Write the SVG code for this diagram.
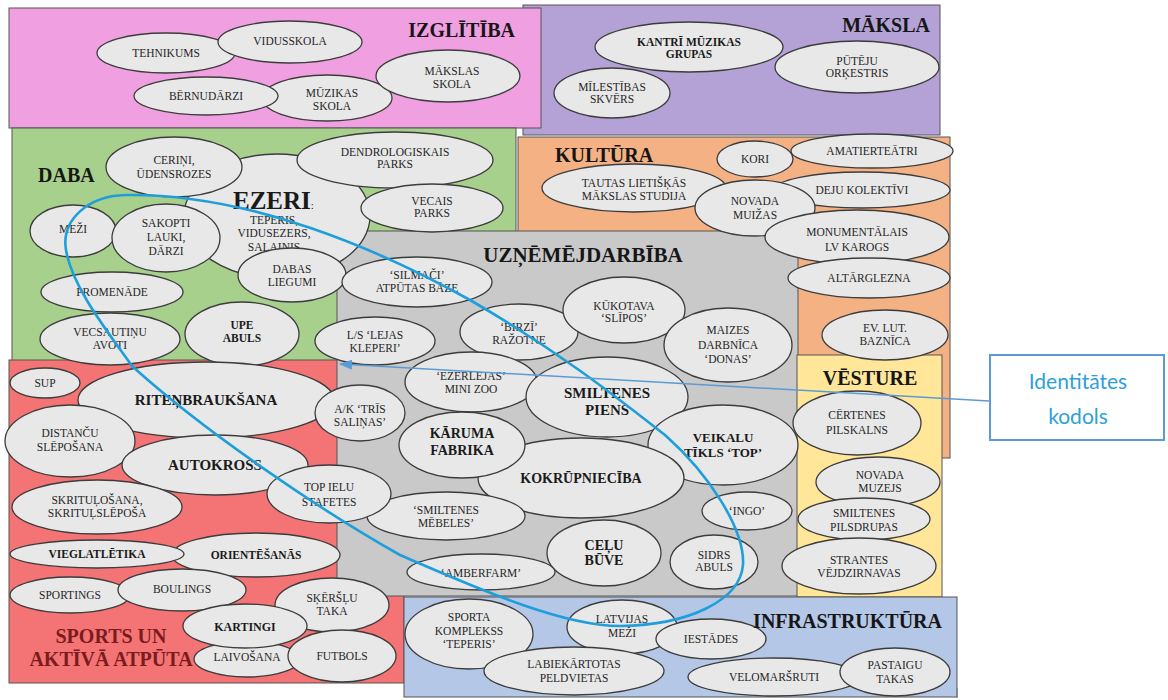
<svg xmlns="http://www.w3.org/2000/svg" width="1168" height="700" viewBox="0 0 1168 700">
<defs>
<style>
.p{stroke:#555;stroke-width:1}
.e{fill:#E8E8E8;stroke:#3C3C3C;stroke-width:1.3}
.t{font-family:"Liberation Serif","Times New Roman",serif;font-size:11.5px;fill:#262626;text-anchor:middle}
.b{font-weight:bold;fill:#1A1A1A}
.s12{font-size:12px}
.s13{font-size:13px}
.s14{font-size:14px}
.s15{font-size:15px}
.h{font-family:"Liberation Serif","Times New Roman",serif;font-weight:bold;font-size:20px;fill:#161616}
.red{fill:#7B1C1C}
.loop{fill:none;stroke:#1E9FDB;stroke-width:2.6}
.arr{fill:none;stroke:#5B9BD5;stroke-width:1.5}
.id{font-family:Lato,"Open Sans",sans-serif;font-size:21px;fill:#2F9FDB;text-anchor:middle}
</style>
<marker id="ah" markerUnits="userSpaceOnUse" markerWidth="13" markerHeight="10" refX="12" refY="5" orient="auto">
<path d="M0,0 L13,5 L0,10 Z" fill="#5B9BD5"/>
</marker>
</defs>
<rect width="1168" height="700" fill="#fff"/>

<g id="panels">
<rect id="maksla-panel" class="p" x="523" y="5" width="417" height="130" fill="#B4A2D6"/>
<rect id="izglitiba-panel" class="p" x="9" y="8" width="532" height="120" fill="#F0A0E0"/>
<rect id="daba-panel" class="p" x="12" y="128" width="504" height="233" fill="#A8D08D"/>
<rect id="kultura-panel" class="p" x="518" y="137" width="432" height="321" fill="#F4B183"/>
<rect id="sports-panel" class="p" x="9" y="360" width="395" height="323" fill="#F47375"/>
<rect id="uznem-panel" class="p" x="337" y="231" width="461" height="365" fill="#C9C9C9"/>
<rect id="vesture-panel" class="p" x="797" y="355" width="145" height="242" fill="#FFE699"/>
<rect id="infra-panel" class="p" x="404" y="597" width="553" height="100" fill="#B4C7E7"/>
</g>

<g id="n-tehnikums"><ellipse class="e" cx="166" cy="53" rx="69" ry="20"/><text class="t" x="166" y="57">TEHNIKUMS</text></g>
<g id="n-vidusskola"><ellipse class="e" cx="290" cy="42" rx="72" ry="21"/><text class="t" x="290" y="45">VIDUSSKOLA</text></g>
<g id="n-muzikas-skola"><ellipse class="e" cx="327" cy="98" rx="65" ry="23"/><text class="t" x="332" y="97">MŪZIKAS</text><text class="t" x="332" y="110">SKOLA</text></g>
<g id="n-bernudarzi"><ellipse class="e" cx="206" cy="96" rx="72" ry="19"/><text class="t" x="206" y="100">BĒRNUDĀRZI</text></g>
<g id="n-makslas-skola"><ellipse class="e" cx="448" cy="76" rx="72" ry="26"/><text class="t" x="452" y="75">MĀKSLAS</text><text class="t" x="452" y="88">SKOLA</text></g>

<g id="n-kantri"><ellipse class="e" cx="689" cy="47" rx="94" ry="25"/><text class="t b" x="689" y="46">KANTRĪ MŪZIKAS</text><text class="t b" x="689" y="58">GRUPAS</text></g>
<g id="n-milestibas"><ellipse class="e" cx="612" cy="93" rx="58" ry="25"/><text class="t" x="612" y="91">MĪLESTĪBAS</text><text class="t" x="612" y="103">SKVĒRS</text></g>
<g id="n-puteju"><ellipse class="e" cx="857" cy="67" rx="82" ry="26"/><text class="t" x="857" y="65">PŪTĒJU</text><text class="t" x="857" y="77">ORĶESTRIS</text></g>

<g id="n-ezeri"><ellipse class="e" cx="277" cy="216" rx="93" ry="62"/><text x="233" y="209" font-family="Liberation Serif,serif" font-weight="bold" font-size="25" fill="#1A1A1A">EZERI<tspan font-size="11" font-weight="normal">:</tspan></text><text class="t" x="274" y="224">TEPERIS,</text><text class="t" x="274" y="237">VIDUSEZERS,</text><text class="t" x="274" y="251">SALAIŅIS</text></g>
<g id="n-cerini"><ellipse class="e" cx="174" cy="167" rx="68" ry="30"/><text class="t" x="174" y="164">CERIŅI,</text><text class="t" x="174" y="178">ŪDENSROZES</text></g>
<g id="n-dendro"><ellipse class="e" cx="395" cy="160" rx="98" ry="28"/><text class="t" x="395" y="156">DENDROLOGISKAIS</text><text class="t" x="395" y="168">PARKS</text></g>
<g id="n-vecais-parks"><ellipse class="e" cx="432" cy="208" rx="71" ry="24"/><text class="t" x="432" y="205">VECAIS</text><text class="t" x="432" y="217">PARKS</text></g>
<g id="n-mezi"><ellipse class="e" cx="73" cy="231" rx="43" ry="26"/><text class="t" x="73" y="233">MEŽI</text></g>
<g id="n-sakopti"><ellipse class="e" cx="166" cy="238" rx="54" ry="34"/><text class="t" x="166" y="227">SAKOPTI</text><text class="t" x="166" y="241">LAUKI,</text><text class="t" x="166" y="255">DĀRZI</text></g>
<g id="n-dabas-liegumi"><ellipse class="e" cx="292" cy="275" rx="54" ry="27"/><text class="t" x="292" y="273">DABAS</text><text class="t" x="292" y="286">LIEGUMI</text></g>
<g id="n-promenade"><ellipse class="e" cx="112" cy="292" rx="71" ry="20"/><text class="t" x="112" y="296">PROMENĀDE</text></g>
<g id="n-vecsautinu"><ellipse class="e" cx="110" cy="339" rx="70" ry="26"/><text class="t" x="110" y="336">VECSAUTIŅU</text><text class="t" x="110" y="349">AVOTI</text></g>
<g id="n-upe-abuls"><ellipse class="e" cx="242" cy="334" rx="57" ry="32"/><text class="t b" x="242" y="329">UPE</text><text class="t b" x="242" y="342">ABULS</text></g>
<g id="n-silmaci"><ellipse class="e" cx="417" cy="282" rx="75" ry="25"/><text class="t" x="417" y="279">‘SILMAČI’</text><text class="t" x="417" y="292">ATPŪTAS BĀZE</text></g>

<g id="n-tautas"><ellipse class="e" cx="634" cy="188" rx="92" ry="24"/><text class="t" x="634" y="187">TAUTAS LIETIŠĶĀS</text><text class="t" x="634" y="200">MĀKSLAS STUDIJA</text></g>
<g id="n-kori"><ellipse class="e" cx="755" cy="159" rx="38" ry="18"/><text class="t" x="755" y="163">KORI</text></g>
<g id="n-amatierteatri"><ellipse class="e" cx="872" cy="151" rx="81" ry="17"/><text class="t" x="872" y="155">AMATIERTEĀTRI</text></g>
<g id="n-deju"><ellipse class="e" cx="862" cy="190" rx="88" ry="18"/><text class="t" x="862" y="194">DEJU KOLEKTĪVI</text></g>
<g id="n-novada-muizas"><ellipse class="e" cx="755" cy="208" rx="60" ry="28"/><text class="t" x="755" y="205">NOVADA</text><text class="t" x="755" y="219">MUIŽAS</text></g>
<g id="n-monumentalais"><ellipse class="e" cx="857" cy="237" rx="92" ry="27"/><text class="t" x="857" y="236">MONUMENTĀLAIS</text><text class="t" x="857" y="251">LV KAROGS</text></g>
<g id="n-altarglezna"><ellipse class="e" cx="869" cy="278" rx="81" ry="20"/><text class="t" x="869" y="282">ALTĀRGLEZNA</text></g>
<g id="n-ev-lut"><ellipse class="e" cx="885" cy="335" rx="63" ry="25"/><text class="t" x="885" y="332">EV. LUT.</text><text class="t" x="885" y="345">BAZNĪCA</text></g>

<g id="n-lejas"><ellipse class="e" cx="375" cy="341" rx="60" ry="24"/><text class="t" x="375" y="339">L/S ‘LEJAS</text><text class="t" x="375" y="352">KLEPERI’</text></g>
<g id="n-birzi"><ellipse class="e" cx="519" cy="332" rx="59" ry="28"/><text class="t" x="519" y="331">‘BIRZĪ’</text><text class="t" x="519" y="344">RAŽOTNE</text></g>
<g id="n-kukotava"><ellipse class="e" cx="624" cy="310" rx="61" ry="33"/><text class="t" x="624" y="310">KŪKOTAVA</text><text class="t" x="624" y="322">‘SLĪPOS’</text></g>
<g id="n-maizes"><ellipse class="e" cx="728" cy="345" rx="64" ry="37"/><text class="t" x="728" y="334">MAIZES</text><text class="t" x="728" y="349">DARBNĪCA</text><text class="t" x="728" y="363">‘DONAS’</text></g>
<g id="n-ezerlejas"><ellipse class="e" cx="471" cy="382" rx="66" ry="30"/><text class="t" x="471" y="380">‘EZERLEJAS’</text><text class="t" x="471" y="393">MINI ZOO</text></g>
<g id="n-smiltenes-piens"><ellipse class="e" cx="607" cy="397" rx="81" ry="40"/><text class="t b s15" x="607" y="398">SMILTENES</text><text class="t b s15" x="607" y="415">PIENS</text></g>
<g id="n-veikalu"><ellipse class="e" cx="723" cy="445" rx="75" ry="40"/><text class="t b s13" x="723" y="442">VEIKALU</text><text class="t b s13" x="723" y="457">TĪKLS ‘TOP’</text></g>
<g id="n-kokrupn"><ellipse class="e" cx="581" cy="478" rx="103" ry="40"/><text class="t b s14" x="581" y="483">KOKRŪPNIECĪBA</text></g>
<g id="n-karuma"><ellipse class="e" cx="462" cy="445" rx="63" ry="33"/><text class="t b s14" x="462" y="438">KĀRUMA</text><text class="t b s14" x="462" y="455">FABRIKA</text></g>
<g id="n-mebeles"><ellipse class="e" cx="446" cy="516" rx="79" ry="24"/><text class="t" x="446" y="514">‘SMILTENES</text><text class="t" x="446" y="527">MĒBELES’</text></g>
<g id="n-ingo"><ellipse class="e" cx="747" cy="511" rx="45" ry="19"/><text class="t" x="747" y="515">‘INGO’</text></g>
<g id="n-celu"><ellipse class="e" cx="604" cy="553" rx="57" ry="33"/><text class="t b s14" x="604" y="550">CEĻU</text><text class="t b s14" x="604" y="565">BŪVE</text></g>
<g id="n-sidrs"><ellipse class="e" cx="714" cy="562" rx="44" ry="27"/><text class="t" x="714" y="559">SIDRS</text><text class="t" x="714" y="571">ABULS</text></g>
<g id="n-amberfarm"><ellipse class="e" cx="481" cy="572" rx="74" ry="18"/><text class="t" x="481" y="577">‘AMBERFARM’</text></g>

<g id="n-certenes"><ellipse class="e" cx="857" cy="423" rx="64" ry="32"/><text class="t" x="857" y="419">CĒRTENES</text><text class="t" x="857" y="434">PILSKALNS</text></g>
<g id="n-novada-muzejs"><ellipse class="e" cx="878" cy="482" rx="62" ry="25"/><text class="t" x="880" y="479">NOVADA</text><text class="t" x="880" y="492">MUZEJS</text></g>
<g id="n-pilsdrupas"><ellipse class="e" cx="864" cy="519" rx="66" ry="21"/><text class="t" x="864" y="517">SMILTENES</text><text class="t" x="864" y="531">PILSDRUPAS</text></g>
<g id="n-strantes"><ellipse class="e" cx="859" cy="566" rx="77" ry="28"/><text class="t" x="859" y="564">STRANTES</text><text class="t" x="859" y="577">VĒJDZIRNAVAS</text></g>

<g id="n-sup"><ellipse class="e" cx="45" cy="383" rx="35" ry="15"/><text class="t" x="45" y="387">SUP</text></g>
<g id="n-ritenbrauksana"><ellipse class="e" cx="206" cy="400" rx="128" ry="38"/><text class="t b s15" x="206" y="405">RITEŅBRAUKŠANA</text></g>
<g id="n-distancu"><ellipse class="e" cx="70" cy="441" rx="65" ry="36"/><text class="t" x="70" y="437">DISTANČU</text><text class="t" x="70" y="451">SLĒPOŠANA</text></g>
<g id="n-autokross"><ellipse class="e" cx="215" cy="465" rx="93" ry="30"/><text class="t b s15" x="215" y="470">AUTOKROSS</text></g>
<g id="n-trisalinas"><ellipse class="e" cx="360" cy="413" rx="45" ry="28"/><text class="t" x="360" y="413">A/K ‘TRĪS</text><text class="t" x="360" y="426">SALIŅAS’</text></g>
<g id="n-topielu"><ellipse class="e" cx="329" cy="494" rx="62" ry="29"/><text class="t" x="329" y="491">TOP IELU</text><text class="t" x="329" y="506">STAFETES</text></g>
<g id="n-skritulosana"><ellipse class="e" cx="97" cy="507" rx="85" ry="27"/><text class="t" x="97" y="504">SKRITUĻOŠANA,</text><text class="t" x="97" y="517">SKRITUĻSLĒPOŠA</text></g>
<g id="n-orientesanas"><ellipse class="e" cx="256" cy="555" rx="84" ry="22"/><text class="t b" x="256" y="559">ORIENTĒŠANĀS</text></g>
<g id="n-vieglatletika"><ellipse class="e" cx="97" cy="554" rx="87" ry="14"/><text class="t b" x="97" y="558">VIEGLATLĒTIKA</text></g>
<g id="n-sportings"><ellipse class="e" cx="70" cy="595" rx="60" ry="18"/><text class="t" x="70" y="599">SPORTINGS</text></g>
<g id="n-boulings"><ellipse class="e" cx="182" cy="590" rx="64" ry="21"/><text class="t" x="182" y="593">BOULINGS</text></g>
<g id="n-skerslu"><ellipse class="e" cx="332" cy="605" rx="57" ry="27"/><text class="t" x="332" y="602">SĶĒRŠĻU</text><text class="t" x="332" y="615">TAKA</text></g>
<g id="n-laivosana"><ellipse class="e" cx="247" cy="659" rx="53" ry="18"/><text class="t" x="247" y="661">LAIVOŠANA</text></g>
<g id="n-kartingi"><ellipse class="e" cx="245" cy="626" rx="62" ry="22"/><text class="t b s12" x="245" y="631">KARTINGI</text></g>
<g id="n-futbols"><ellipse class="e" cx="342" cy="656" rx="54" ry="26"/><text class="t" x="342" y="660">FUTBOLS</text></g>

<g id="n-sporta-komplekss"><ellipse class="e" cx="469" cy="634" rx="64" ry="35"/><text class="t" x="469" y="621">SPORTA</text><text class="t" x="469" y="635">KOMPLEKSS</text><text class="t" x="469" y="648">‘TEPERIS’</text></g>
<g id="n-latvijas-mezi"><ellipse class="e" cx="622" cy="627" rx="55" ry="27"/><text class="t" x="622" y="623">LATVIJAS</text><text class="t" x="622" y="637">MEŽI</text></g>
<g id="n-iestades"><ellipse class="e" cx="711" cy="639" rx="55" ry="20"/><text class="t" x="711" y="643">IESTĀDES</text></g>
<g id="n-labiekartotas"><ellipse class="e" cx="574" cy="671" rx="90" ry="24"/><text class="t" x="574" y="668">LABIEKĀRTOTAS</text><text class="t" x="574" y="682">PELDVIETAS</text></g>
<g id="n-velomarsruti"><ellipse class="e" cx="774" cy="677" rx="86" ry="19"/><text class="t" x="774" y="681">VELOMARŠRUTI</text></g>
<g id="n-pastaigu"><ellipse class="e" cx="895" cy="672" rx="55" ry="24"/><text class="t" x="895" y="669">PASTAIGU</text><text class="t" x="895" y="683">TAKAS</text></g>

<g id="titles">
<text class="h" x="515" y="37" text-anchor="end">IZGLĪTĪBA</text>
<text class="h" x="930" y="32" text-anchor="end">MĀKSLA</text>
<text class="h" x="38" y="182">DABA</text>
<text class="h" x="555" y="162">KULTŪRA</text>
<text class="h" x="583" y="262" text-anchor="middle" style="font-size:21px">UZŅĒMĒJDARBĪBA</text>
<text class="h" x="870" y="385" text-anchor="middle">VĒSTURE</text>
<text class="h" x="942" y="628" text-anchor="end">INFRASTRUKTŪRA</text>
<text class="h red" x="111" y="643" text-anchor="middle">SPORTS UN</text>
<text class="h red" x="111" y="666" text-anchor="middle">AKTĪVĀ ATPŪTA</text>
</g>

<g id="n-identitate">
<rect x="990" y="355" width="174" height="85" fill="#fff" stroke="#5B9BD5" stroke-width="2"/>
<text class="id" x="1078" y="389">Identitātes</text>
<text class="id" x="1078" y="424">kodols</text>
</g>

<g id="connectors">
<path class="loop" d="M132,366 C108,332 72,287 66,250 C61,220 88,196 125,195 C250,193 380,250 470,300 C560,352 620,400 665,435 C710,475 745,530 743,565 C740,600 690,625 620,626 C560,626 470,585 400,555 C320,510 205,432 132,366 Z"/>
<line class="arr" x1="989" y1="401" x2="340" y2="364" marker-end="url(#ah)"/>
<line x1="957" y1="688" x2="957" y2="698" stroke="#777" stroke-width="1"/>
</g>
</svg>
